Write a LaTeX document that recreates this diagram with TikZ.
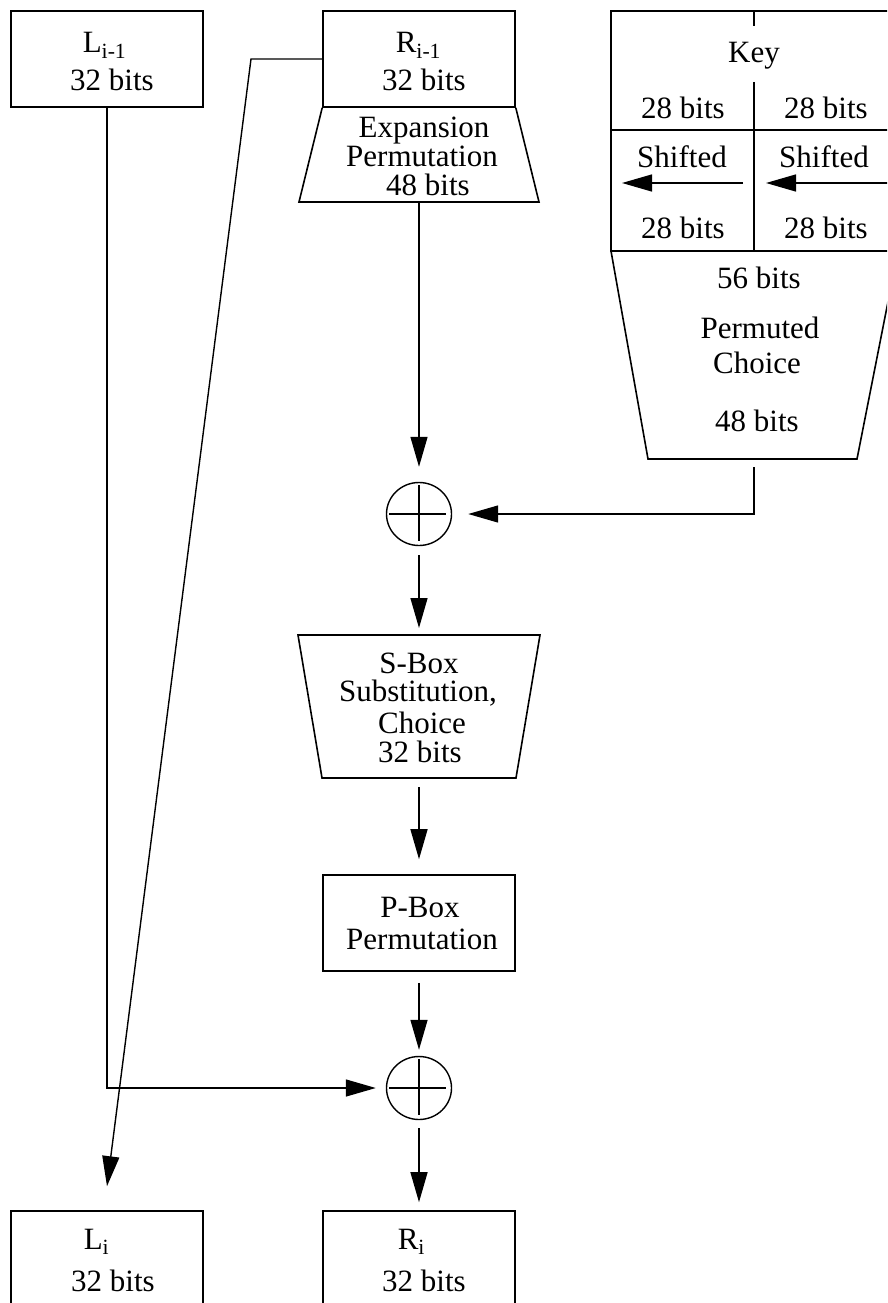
\documentclass[tikz,border=0pt]{standalone}
\usepackage{fontspec}
\setmainfont{Liberation Serif}
\usetikzlibrary{arrows.meta,shapes.geometric}
\begin{document}
\begin{tikzpicture}[x=1pt,y=-1pt,
  line width=1.6pt,
  box/.style={draw, rectangle, minimum width=192pt, minimum height=96pt, inner sep=0pt},
  txt/.style={inner sep=0pt, anchor=base, font=\fontsize{31}{31}\selectfont},
  txtw/.style={txt, anchor=base west},
  xor/.style={draw, ellipse, minimum width=65pt, minimum height=63pt, inner sep=0pt, line width=1.4pt},
  flow/.style={line width=1.4pt, -{Triangle[length=30pt,width=17pt]}},
  wire/.style={line width=1.4pt}]
\useasboundingbox (0,0) rectangle (887,1303);
\clip (0,0) rectangle (887,1303);

% ---- half blocks of one round ----
\node[box] (L0) at (107,59) {};
\node[box] (R0) at (419,59) {};
\node[box] (P) at (419,923) {};
\node[box, minimum height=120pt] (L1) at (107,1271) {};
\node[box, minimum height=120pt] (R1) at (419,1271) {};

\node[txtw] (L0a) at (82,53) {L\textsubscript{i-1}};
\node[txt]  (L0b) at (112,91) {32 bits};
\node[txtw] (R0a) at (395,53) {R\textsubscript{i-1}};
\node[txt]  (R0b) at (424,91) {32 bits};
\node[txtw] (L1a) at (83,1249) {L\textsubscript{i}};
\node[txt]  (L1b) at (113,1291) {32 bits};
\node[txtw] (R1a) at (397,1249) {R\textsubscript{i}};
\node[txt]  (R1b) at (424,1291) {32 bits};

% ---- expansion permutation ----
\coordinate (Eb) at (419,202);
\draw (R0.south west) -- (299,202) -- (539,202) -- (R0.south east);
\node[txt] (E1) at (424,137) {Expansion};
\node[txt] (E2) at (422,166) {Permutation};
\node[txt] (E3) at (428,195) {48 bits};

% ---- key schedule ----
\draw (898,11) -- (611,11) -- (611,251) -- (898,251);
\draw (611,130) -- (898,130);
\draw (754,11) -- (754,26);
\draw (754,82) -- (754,251);
\draw (611,251) -- (648,459) -- (857,459) -- (898,251);
\node[txt] (K0) at (754,63) {Key};
\node[txt] (K1) at (683,118) {28 bits};
\node[txt] (K2) at (826,118) {28 bits};
\node[txt] (K3) at (682,167) {Shifted};
\node[txt] (K4) at (824,167) {Shifted};
\node[txt] (K5) at (683,238) {28 bits};
\node[txt] (K6) at (826,238) {28 bits};
\coordinate (sl0) at (743,183);
\coordinate (sl1) at (622,183);
\coordinate (sr0) at (899,183);
\coordinate (sr1) at (766,183);
\draw[flow] (sl0) -- (sl1);
\draw[flow] (sr0) -- (sr1);
\node[txt] (PC1) at (759,288) {56 bits};
\node[txt] (PC2) at (760,338) {Permuted};
\node[txt] (PC3) at (757,373) {Choice};
\node[txt] (PC4) at (757,431) {48 bits};
\coordinate (kout) at (754,467);

% ---- XOR units ----
\node[xor] (X1) at (419,514) {};
\node[xor] (X2) at (419,1088) {};
\foreach \x in {X1,X2} {
  \draw[wire] (\x.center) ++(-30,0) -- ++(57,0);
  \draw[wire] (\x.center) ++(0,-29) -- ++(0,56);
}

% ---- S-box substitution ----
\coordinate (St) at (419,635);
\coordinate (Sb) at (419,778);
\draw (298,635) -- (540,635) -- (516,778) -- (322,778) -- cycle;
\node[txt] (S1) at (419,673) {S-Box};
\node[txt] (S2) at (418,701) {Substitution,};
\node[txt] (S3) at (422,733) {Choice};
\node[txt] (S4) at (420,762) {32 bits};

% ---- P-box permutation ----
\node[txt] (P1) at (420,917) {P-Box};
\node[txt] (P2) at (422,949) {Permutation};

% ---- connectors ----
\draw[flow] (Eb) -- ([yshift=15pt]X1.north);
\draw[flow] (kout) |- ([xshift=16pt]X1.east);
\draw[flow] ([yshift=-9pt]X1.south) -- ([yshift=7pt]St);
\draw[flow] ([yshift=-9pt]Sb) -- ([yshift=15pt]P.north);
\draw[flow] ([yshift=-11pt]P.south) -- ([yshift=6pt]X2.north);
\draw[flow] ([yshift=-8pt]X2.south) -- ([yshift=8pt]R1.north);
\draw[flow] (L0.south) |- ([xshift=-10pt]X2.west);
\draw[flow] (R0.west) -- (251,59) -- ([yshift=24pt]L1.north);
\end{tikzpicture}
\end{document}
